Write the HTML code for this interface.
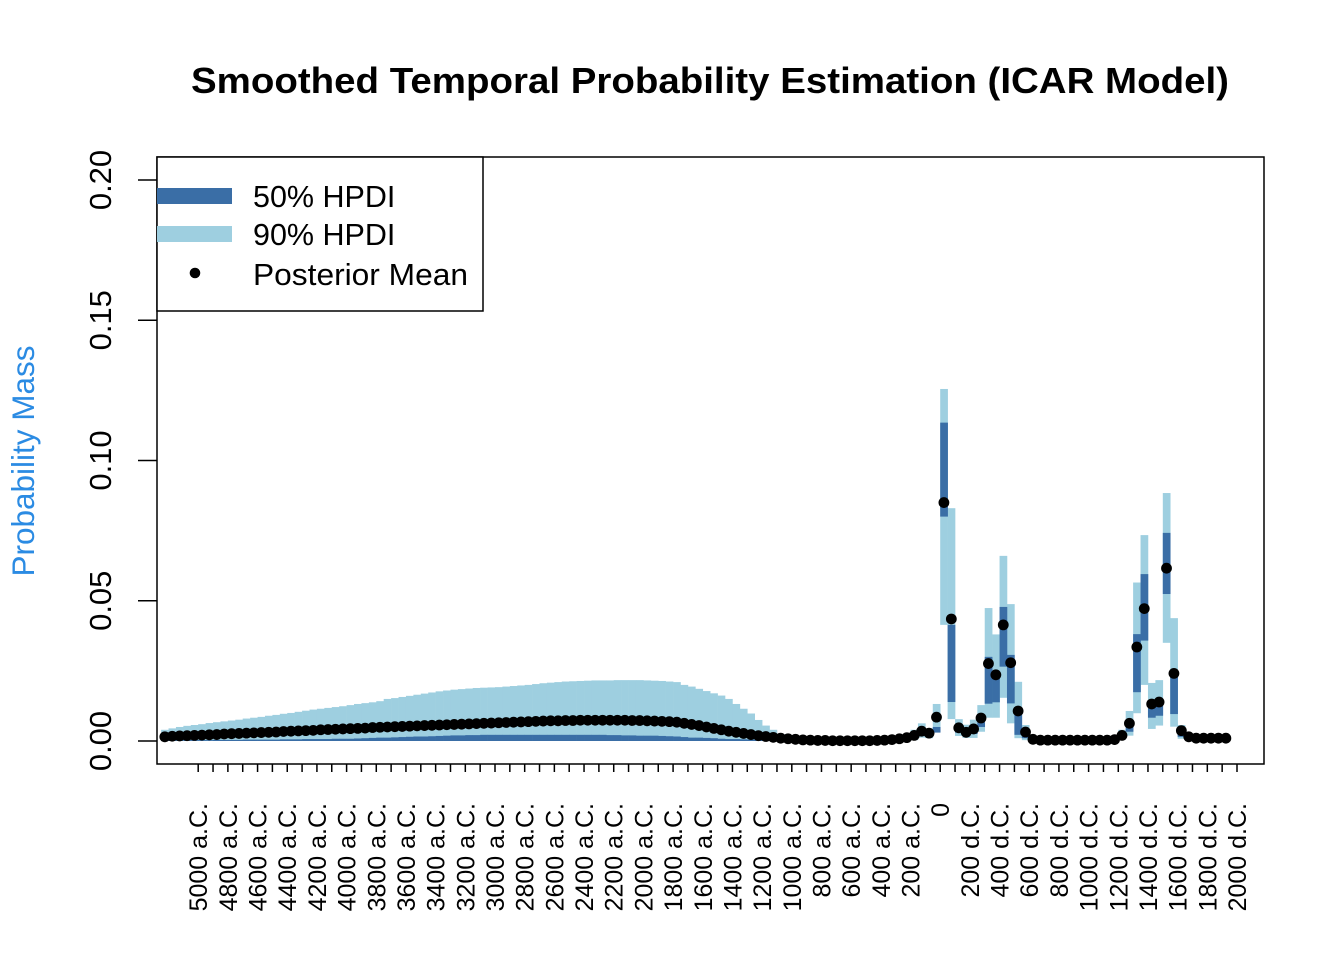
<!DOCTYPE html>
<html><head><meta charset="utf-8">
<style>
html,body{margin:0;padding:0;background:#fff;}
svg{display:block;font-family:"Liberation Sans",Arial,sans-serif;}
</style></head>
<body>
<svg id="chart" width="1344" height="960" viewBox="0 0 1344 960" xmlns="http://www.w3.org/2000/svg">
<text x="710" y="93" text-anchor="middle" font-size="36" font-weight="bold" textLength="1038" lengthAdjust="spacingAndGlyphs">Smoothed Temporal Probability Estimation (ICAR Model)</text>
<text transform="translate(34,461) rotate(-90)" text-anchor="middle" font-size="31.5" fill="#2B8BE3">Probability Mass</text>
<g id="bars90"></g>
<g id="bars50"></g>
<g id="points"></g>
<g id="yaxis"></g>
<g id="xaxis"></g>
<rect x="157" y="157" width="1107" height="607" fill="none" stroke="#000" stroke-width="1.5"/>
<g>
<rect x="157" y="157" width="326" height="154" fill="#fff" stroke="#000" stroke-width="1.5"/>
<rect x="157" y="188" width="75" height="16" fill="#3A6EA6"/>
<text x="253" y="207" font-size="30.5">50% HPDI</text>
<rect x="157" y="226" width="75" height="16" fill="#9ECFE0"/>
<text x="253" y="245" font-size="30.5">90% HPDI</text>
<circle cx="195" cy="273" r="5.3" fill="#000"/>
<text x="253" y="285" font-size="30.5" textLength="215" lengthAdjust="spacingAndGlyphs">Posterior Mean</text>
</g>
</svg>
<script>
const firstMid = -5225;
const binWidth = 50;
const meanVals = [
.0015,.0017,.0018,.0019,.0020,.0021,.0022,.0023,.0025,.0026,
.0027,.0028,.0029,.0030,.0031,.0032,.0034,.0035,.0036,.0037,
.0038,.0040,.0041,.0042,.0043,.0044,.0045,.0046,.0048,.0049,
.0050,.0051,.0052,.0053,.0054,.0055,.0056,.0057,.0058,.0059,
.0060,.0061,.0062,.0063,.0064,.0065,.0066,.0067,.0068,.0069,
.0070,.0071,.0072,.0072,.0073,.0073,.0074,.0074,.0074,.0074,
.0074,.0074,.0074,.0073,.0073,.0072,.0071,.0070,.0069,.0067,
.0063,.0059,.0055,.0050,.0045,.0040,.0035,.0031,.0027,.0023,
.0019,.0016,.0013,.0010,.0008,.0006,.0004,.0003,.0002,.0002,
.0001,.0001,.0001,.0001,.0001,.0001,.0002,.0003,.0005,.0008,
.0012,.0020,.0035,.0028,.0085,.0850,.0435,.0047,.0031,.0043,
.0082,.0276,.0236,.0414,.0279,.0107,.0032,.0006,.0003,.0003,
.0003,.0003,.0003,.0003,.0003,.0003,.0003,.0003,.0005,.0020,
.0063,.0335,.0472,.0132,.0139,.0616,.0241,.0037,.0015,.0010,
.0010,.0010,.0010,.0010];
const hi90Vals = [
.0040,.0045,.0050,.0054,.0057,.0060,.0064,.0067,.0070,.0073,
.0076,.0080,.0083,.0086,.0090,.0093,.0097,.0100,.0104,.0108,
.0112,.0115,.0118,.0121,.0124,.0128,.0132,.0135,.0138,.0142,
.0150,.0153,.0157,.0161,.0165,.0169,.0173,.0177,.0180,.0183,
.0185,.0187,.0189,.0190,.0191,.0192,.0194,.0196,.0198,.0200,
.0203,.0206,.0208,.0210,.0212,.0213,.0214,.0215,.0216,.0216,
.0216,.0217,.0217,.0217,.0217,.0216,.0215,.0214,.0212,.0210,
.0200,.0194,.0186,.0178,.0170,.0162,.0150,.0132,.0115,.0098,
.0075,.0055,.0040,.0025,.0012,.0007,.0005,.0004,.0003,.0003,
.0003,.0002,.0002,.0002,.0002,.0002,.0003,.0004,.0007,.0015,
.0022,.0040,.0063,.0045,.0132,.1255,.0830,.0078,.0058,.0076,
.0128,.0474,.0380,.0660,.0488,.0211,.0057,.0012,.0006,.0006,
.0006,.0006,.0006,.0006,.0006,.0006,.0006,.0006,.0012,.0040,
.0107,.0565,.0734,.0207,.0217,.0884,.0438,.0057,.0025,.0018,
.0018,.0018,.0018,.0018];
const lo90Vals = [
0,0,0,0,0,0,0,0,0,0, 0,0,0,0,0,0,0,0,0,0,
0,0,0,0,0,0,0,0,0,0, 0,0,0,0,0,0,0,0,0,0,
0,0,0,0,0,0,0,0,0,0, 0,0,0,0,0,0,0,0,0,0,
0,0,0,0,0,0,0,0,0,0, 0,0,0,0,0,0,0,0,0,0,
0,0,0,0,0,0,0,0,0,0, 0,0,0,0,0,0,0,0,0,0,
0,.0003,.0012,.0010,.0032,.0414,.0078,.0018,.0011,.0011,
.0033,.0083,.0083,.0154,.0063,.0010,.0003,0,0,0,
0,0,0,0,0,0,0,0,0,.0005,
.0019,.0099,.0200,.0043,.0055,.0350,.0051,.0008,.0003,.0002,
.0002,.0002,.0002,.0002];
const hi50Vals = [
.0002,.0002,.0002,.0003,.0003,.0003,.0003,.0004,.0004,.0004,
.0004,.0005,.0005,.0005,.0005,.0005,.0006,.0006,.0006,.0007,
.0007,.0007,.0007,.0008,.0008,.0008,.0009,.0010,.0011,.0012,
.0012,.0013,.0014,.0015,.0016,.0016,.0017,.0018,.0019,.0020,
.0020,.0021,.0021,.0022,.0022,.0022,.0022,.0022,.0022,.0022,
.0022,.0022,.0022,.0022,.0022,.0022,.0022,.0022,.0022,.0022,
.0021,.0021,.0020,.0020,.0019,.0019,.0019,.0018,.0017,.0016,
.0014,.0012,.0012,.0011,.0010,.0008,.0007,.0007,.0006,.0005,
.0004,.0003,.0002,.0002,.0001,.0001,.0001,.0001,.0001,.0001,
.0001,.0001,.0001,.0001,.0001,.0001,.0001,.0001,.0001,.0008,
.0011,.0020,.0040,.0030,.0050,.1135,.0414,.0050,.0040,.0055,
.0067,.0300,.0250,.0478,.0307,.0095,.0030,.0006,.0003,.0003,
.0003,.0003,.0003,.0003,.0003,.0003,.0003,.0003,.0006,.0022,
.0050,.0381,.0595,.0120,.0150,.0742,.0235,.0035,.0015,.0010,
.0010,.0010,.0010,.0010];
const lo50Vals = [
0,0,0,0,0,0,0,0,0,0, 0,0,0,0,0,0,0,0,0,0,
0,0,0,0,0,0,0,0,0,0, 0,0,0,0,0,0,0,0,0,0,
0,0,0,0,0,0,0,0,0,0, 0,0,0,0,0,0,0,0,0,0,
0,0,0,0,0,0,0,0,0,0, 0,0,0,0,0,0,0,0,0,0,
0,0,0,0,0,0,0,0,0,0, 0,0,0,0,0,0,0,0,0,.0002,
.0003,.0008,.0020,.0015,.0030,.0800,.0139,.0030,.0020,.0025,
.0050,.0133,.0138,.0265,.0134,.0022,.0010,.0002,.0001,.0001,
.0001,.0001,.0001,.0001,.0001,.0001,.0001,.0001,.0002,.0010,
.0033,.0174,.0358,.0083,.0090,.0524,.0096,.0015,.0006,.0005,
.0005,.0005,.0005,.0005];
const yTicks = [0, 0.05, 0.10, 0.15, 0.20];
const yTickLabels = ["0.00","0.05","0.10","0.15","0.20"];
const xTickYears = [-5000,-4800,-4600,-4400,-4200,-4000,-3800,-3600,-3400,-3200,-3000,-2800,-2600,-2400,-2200,-2000,-1800,-1600,-1400,-1200,-1000,-800,-600,-400,-200,0,200,400,600,800,1000,1200,1400,1600,1800,2000];
const xTickLabels = ["5000 a.C.","4800 a.C.","4600 a.C.","4400 a.C.","4200 a.C.","4000 a.C.","3800 a.C.","3600 a.C.","3400 a.C.","3200 a.C.","3000 a.C.","2800 a.C.","2600 a.C.","2400 a.C.","2200 a.C.","2000 a.C.","1800 a.C.","1600 a.C.","1400 a.C.","1200 a.C.","1000 a.C.","800 a.C.","600 a.C.","400 a.C.","200 a.C.","0","200 d.C.","400 d.C.","600 d.C.","800 d.C.","1000 d.C.","1200 d.C.","1400 d.C.","1600 d.C.","1800 d.C.","2000 d.C."];

const NS = "http://www.w3.org/2000/svg";
const PX_PER_YEAR = 7.42 / 50;
function xScale(yr){ return 940.2 + yr * PX_PER_YEAR; }
function yScale(v){ return 741 - v * 2805; }
function mk(tag, attrs, parent){
  const el = document.createElementNS(NS, tag);
  for (const k in attrs) el.setAttribute(k, attrs[k]);
  parent.appendChild(el);
  return el;
}
const g90 = document.getElementById('bars90');
const g50 = document.getElementById('bars50');
const gp = document.getElementById('points');
const bw = binWidth * PX_PER_YEAR;
for (let i = 0; i < meanVals.length; i++) {
  const mid = firstMid + i * binWidth;
  const cx = xScale(mid);
  const r90 = mk('rect', {x: cx - bw/2, width: bw + 0.3, y: yScale(hi90Vals[i]), height: Math.max(0, yScale(lo90Vals[i]) - yScale(hi90Vals[i])), fill: '#9ECFE0'}, g90);
  
  
  const r50 = mk('rect', {x: cx - bw/2, width: bw + 0.3, y: yScale(hi50Vals[i]), height: Math.max(0, yScale(lo50Vals[i]) - yScale(hi50Vals[i])), fill: '#3A6EA6'}, g50);
  
  
  const c = mk('circle', {cx: cx, cy: yScale(meanVals[i]), r: 5.4, fill: '#000'}, gp);
  
  
}
const gy = document.getElementById('yaxis');
for (let i = 0; i < yTicks.length; i++) {
  const y = yScale(yTicks[i]);
  const t = mk('line', {x1: 138, x2: 157, y1: y, y2: y, stroke: '#000', 'stroke-width': 1.5}, gy);
  
  
  const lb = mk('text', {transform: 'translate(111,' + y + ') rotate(-90)', 'text-anchor': 'middle', 'font-size': 31}, gy);
  lb.textContent = yTickLabels[i];
  
  
}
const gx = document.getElementById('xaxis');
for (let yr = -5000; yr <= 2000; yr += 100) {
  const x = xScale(yr);
  const t = mk('line', {x1: x, x2: x, y1: 764, y2: 772, stroke: '#000', 'stroke-width': 1.5}, gx);
  
  
}
for (let i = 0; i < xTickYears.length; i++) {
  const x = xScale(xTickYears[i]);
  const lb = mk('text', {transform: 'translate(' + (x + 9) + ',803) rotate(-90)', 'text-anchor': 'end', 'font-size': 25}, gx);
  lb.textContent = xTickLabels[i];
  
  
}
</script>
</body></html>
